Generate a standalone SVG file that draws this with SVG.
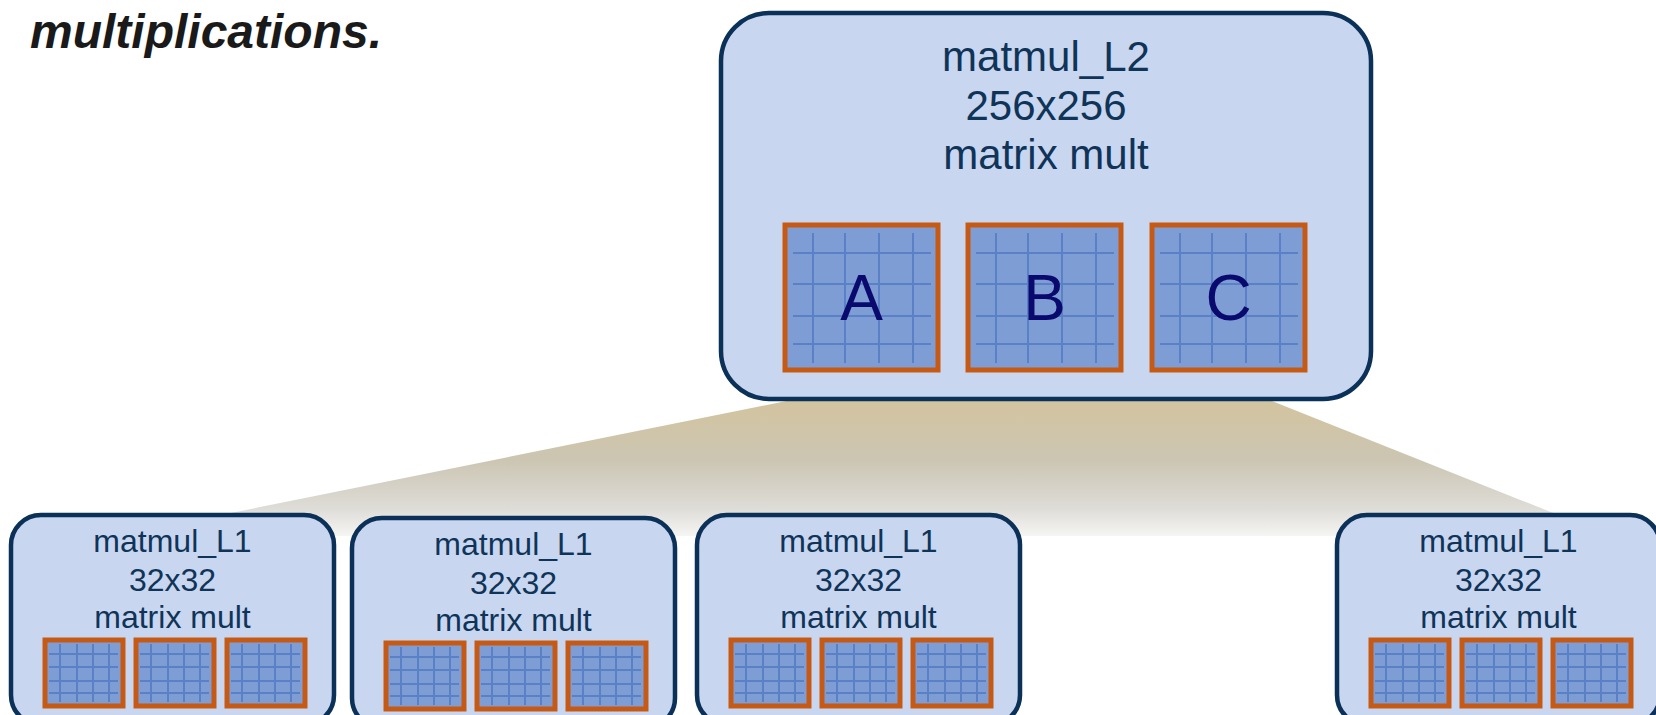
<svg xmlns="http://www.w3.org/2000/svg" width="1656" height="715" viewBox="0 0 1656 715">
<defs>
<style>
.box{fill:#c8d6f0;stroke:#0b3158;stroke-width:4.5}
.lbl{font-family:"Liberation Sans",Arial,sans-serif;fill:#0f3458;text-anchor:middle}
.big{font-size:42px}
.small{font-size:32px}
.mat{fill:#7d9dd4;stroke:#c65a14;stroke-width:5}
.grid{stroke:#5a80c6;stroke-width:2;fill:none}
.letter{font-family:"Liberation Sans",Arial,sans-serif;font-size:64px;fill:#0a0a6e;text-anchor:middle}
</style>
<linearGradient id="fan" gradientUnits="userSpaceOnUse" x1="0" y1="397" x2="0" y2="536">
<stop offset="0" stop-color="#d4c49e"/>
<stop offset="0.45" stop-color="#cbc5b2"/>
<stop offset="0.8" stop-color="#dedcd7"/>
<stop offset="1" stop-color="#f5f5f3"/>
</linearGradient>
<g id="bigmat">
<rect class="mat" x="0" y="0" width="153" height="145"/>
<path class="grid" d="M28 8V138M60 8V138M94 8V138M128 8V138M8 28H146M8 59H146M8 91H146M8 119H146"/>
</g>
<g id="mini">
<rect class="mat" x="0" y="0" width="78" height="66"/>
<path class="grid" d="M15 4V62M32 4V62M48 4V62M64 4V62M4 14H73M4 27H73M4 41H73M4 53H73"/>
</g>
</defs>
<rect width="1656" height="715" fill="#ffffff"/>
<text x="30" y="48" style="font-family:'Liberation Sans',Arial,sans-serif;font-size:48px;font-weight:bold;font-style:italic;fill:#1a1a1a">multiplications.</text>
<g id="connectors">
<polygon points="806,397 1262,397 1611,536 117,536" fill="url(#fan)"/>
</g>
<g id="matmul_L2">
<rect class="box" x="721" y="13" width="650" height="386" rx="48"/>
<text class="lbl big" x="1046" y="71">matmul_L2</text>
<text class="lbl big" x="1046" y="120">256x256</text>
<text class="lbl big" x="1046" y="169">matrix mult</text>
<use href="#bigmat" x="785" y="225"/>
<use href="#bigmat" x="968" y="225"/>
<use href="#bigmat" x="1152" y="225"/>
<text class="letter" x="861.5" y="320">A</text>
<text class="letter" x="1044.5" y="320">B</text>
<text class="letter" x="1228.5" y="320">C</text>
</g>
<g id="L1_1">
<rect class="box" x="11" y="515" width="323" height="210" rx="30"/>
<text class="lbl small" x="172.5" y="552">matmul_L1</text>
<text class="lbl small" x="172.5" y="591">32x32</text>
<text class="lbl small" x="172.5" y="628">matrix mult</text>
<use href="#mini" x="45" y="640"/>
<use href="#mini" x="136" y="640"/>
<use href="#mini" x="227" y="640"/>
</g>
<g id="L1_2">
<rect class="box" x="352" y="518" width="323" height="210" rx="30"/>
<text class="lbl small" x="513.5" y="555">matmul_L1</text>
<text class="lbl small" x="513.5" y="594">32x32</text>
<text class="lbl small" x="513.5" y="631">matrix mult</text>
<use href="#mini" x="386" y="643"/>
<use href="#mini" x="477" y="643"/>
<use href="#mini" x="568" y="643"/>
</g>
<g id="L1_3">
<rect class="box" x="697" y="515" width="323" height="210" rx="30"/>
<text class="lbl small" x="858.5" y="552">matmul_L1</text>
<text class="lbl small" x="858.5" y="591">32x32</text>
<text class="lbl small" x="858.5" y="628">matrix mult</text>
<use href="#mini" x="731" y="640"/>
<use href="#mini" x="822" y="640"/>
<use href="#mini" x="913" y="640"/>
</g>
<g id="L1_4">
<rect class="box" x="1337" y="515" width="323" height="210" rx="30"/>
<text class="lbl small" x="1498.5" y="552">matmul_L1</text>
<text class="lbl small" x="1498.5" y="591">32x32</text>
<text class="lbl small" x="1498.5" y="628">matrix mult</text>
<use href="#mini" x="1371" y="640"/>
<use href="#mini" x="1462" y="640"/>
<use href="#mini" x="1553" y="640"/>
</g>
</svg>
